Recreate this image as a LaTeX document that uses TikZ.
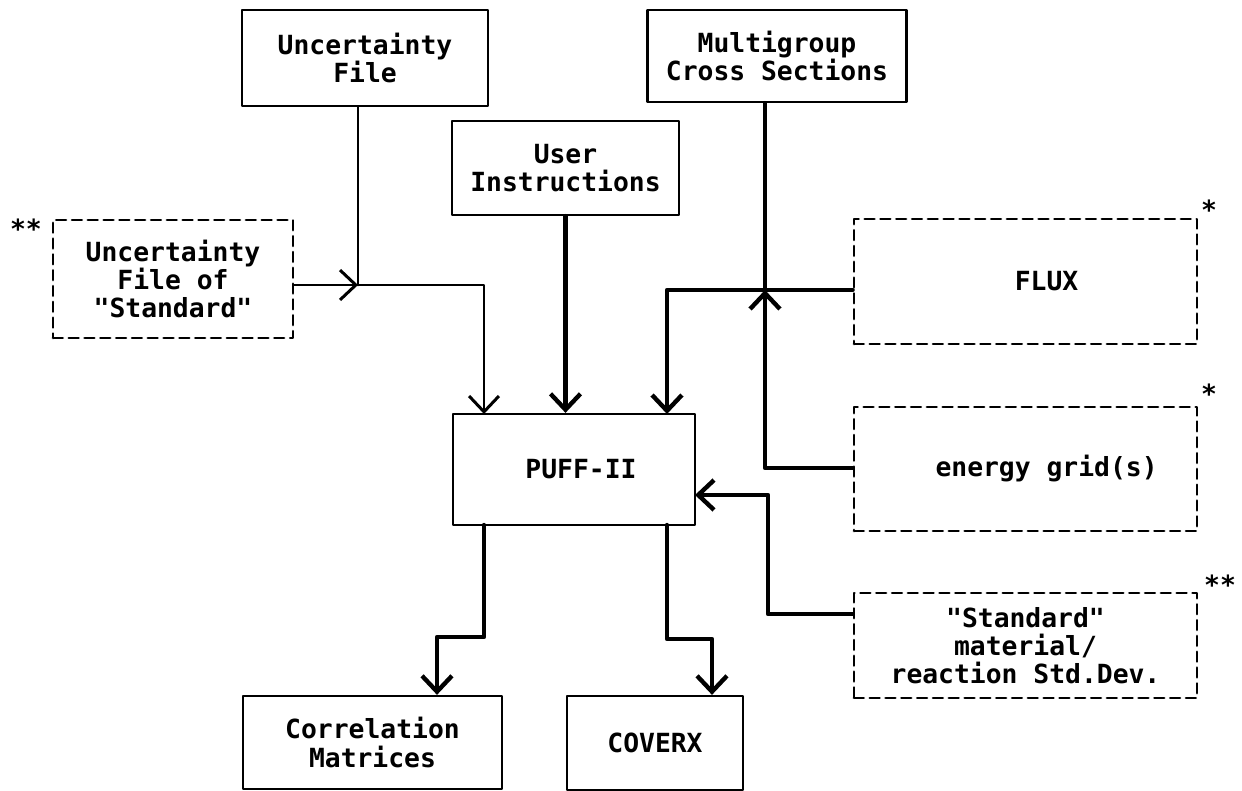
\documentclass[tikz,border=0pt]{standalone}
\usepackage{fontspec}
\setmonofont{DejaVu Sans Mono}
\usetikzlibrary{arrows.meta}
\begin{document}
\begin{tikzpicture}[x=0.02cm,y=-0.02cm,line cap=round,line join=round,
  wh/.style 2 args={minimum width=#1*0.02cm,minimum height=#2*0.02cm},
  box/.style={draw,line width=1.3pt,inner sep=0pt,align=center,
    font=\ttfamily\bfseries\fontsize{15}{16}\selectfont},
  dbox/.style={box,line width=1.6pt,dash pattern=on 5.5pt off 3.5pt},
  lbl/.style={inner sep=0pt,font=\ttfamily\bfseries\fontsize{15}{16}\selectfont},
  conn/.style={line width=2.5pt},
  tconn/.style={line width=1.7pt},
  tip/.style={-{Straight Barb[length=9pt,width=17pt]}}]
\useasboundingbox (0,0) rectangle (1242,791);

% boxes
\node[box,wh={246}{96}] (unc) at (365,58) {Uncertainty\\File};
\node[box,wh={259}{92}] (mg) at (777,56) {Multigroup\\Cross Sections};
\node[box,wh={227}{94}] (user) at (565.5,168) {User\\Instructions};
\node[dbox,wh={240}{118}] (stdl) at (173,279) {Uncertainty\\File of\\"Standard"};
\node[box,wh={242}{111}] (puff) at (574,469.5) {\hspace*{8pt}PUFF-II};
\node[dbox,wh={343}{125}] (flux) at (1025.5,281.5) {\hspace*{24pt}FLUX};
\node[dbox,wh={343}{124}] (egrid) at (1025.5,469) {\hspace*{24pt}energy grid(s)};
\node[dbox,wh={343}{105}] (stdr) at (1025.5,645.5) {"Standard"\\material/\\reaction Std.Dev.};
\node[box,wh={259}{93}] (corr) at (372.5,742.5) {Correlation\\Matrices};
\node[box,wh={176}{94}] (cov) at (655,743) {COVERX};

% stars
\node[lbl] (s1) at (26,229) {**};
\node[lbl] (s2) at (1209,210) {*};
\node[lbl] (s3) at (1209,394) {*};
\node[lbl] (s4) at (1220,585) {**};

% junction coordinates
\coordinate (j1) at (358,285);
\coordinate (p1) at (484,414);
\coordinate (j2) at (765,290);
\coordinate (e1) at (765,468);
\coordinate (p3) at (667,414);
\coordinate (r1) at (768,614);
\coordinate (p5) at (695,495);
\coordinate (q1) at (484,525);
\coordinate (q2) at (437,637);
\coordinate (q3) at (667,525);
\coordinate (q4) at (712,639);

% connectors
\draw[tconn] (unc.south -| j1) -- (j1);
\draw[tconn,tip] (stdl.east |- j1) -- (j1);
\draw[tconn,tip] (j1) -| (p1);
\draw[conn,tip] (user.south) -- (user.south |- puff.north);
\draw[conn] (mg.south -| j2) -- (j2);
\draw[conn,tip] (flux.west |- j2) -| (p3);
\draw[conn,tip] (egrid.west |- e1) -- (e1) -- (j2);
\draw[conn,tip] (stdr.west |- r1) -- (r1) |- (p5);
\draw[conn,tip] (q1) |- (q2) -- (q2 |- corr.north);
\draw[conn,tip] (q3) |- (q4) -- (q4 |- cov.north);
\end{tikzpicture}
\end{document}
